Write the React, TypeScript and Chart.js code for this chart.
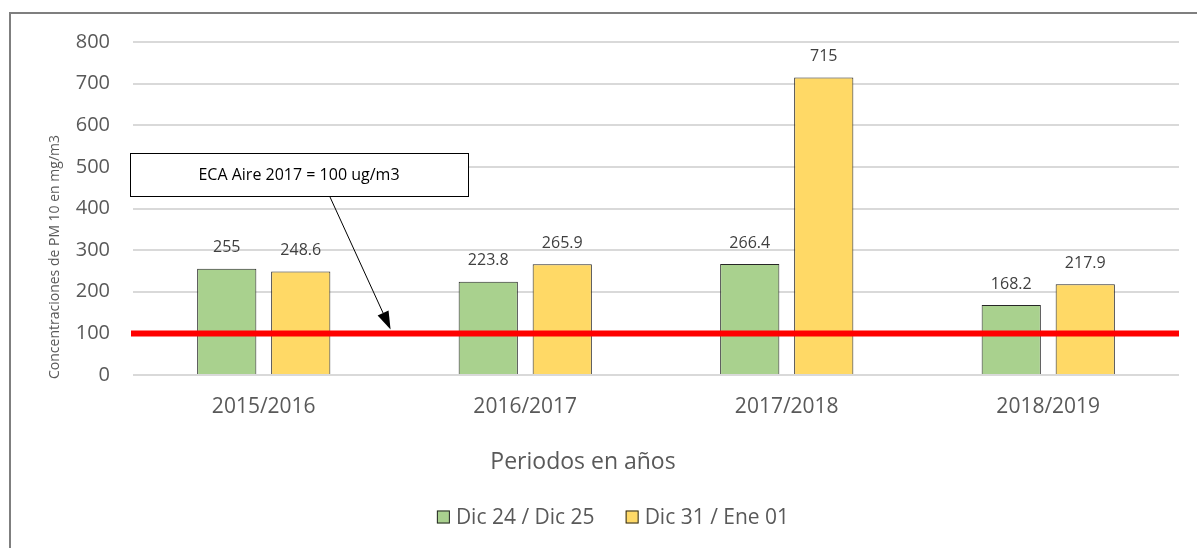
import React, { useEffect, useRef } from 'react';
import { Chart, registerables } from 'chart.js';

Chart.register(...registerables);

// ---------- data ----------
const categories = ['2015/2016', '2016/2017', '2017/2018', '2018/2019'];
const seriesNames = ['Dic 24 / Dic 25', 'Dic 31 / Ene 01'];
const dic24Values = [255, 223.8, 266.4, 168.2];
const dic31Values = [248.6, 265.9, 715, 217.9];
const yTickValues = [0, 100, 200, 300, 400, 500, 600, 700, 800];
const ecaLimit = 100;
const annotationText = 'ECA Aire 2017 = 100 ug/m3';
const yAxisTitle = 'Concentraciones de PM 10 en mg/m3';
const xAxisTitle = 'Periodos en años';

// ---------- styles ----------
const FONT = "'Open Sans', 'Liberation Sans', sans-serif";
const TEXT_GREY = '#595959';
const LABEL_GREY = '#404040';
const GREEN = '#A9D18E';
const YELLOW = '#FFD966';
const BAR_BORDER = '#262626';
const W = 1197;
const H = 548;

const overlayPlugin = {
  id: 'overlay',
  beforeDraw(chart: any) {
    const ctx = chart.ctx as CanvasRenderingContext2D;
    ctx.save();
    ctx.fillStyle = '#ffffff';
    ctx.fillRect(0, 0, chart.width, chart.height);
    // outer chart frame (only top & left visible)
    ctx.strokeStyle = '#7f7f7f';
    ctx.lineWidth = 2;
    ctx.beginPath();
    ctx.moveTo(10, chart.height);
    ctx.lineTo(10, 13);
    ctx.lineTo(chart.width, 13);
    ctx.stroke();
    ctx.restore();
  },
  afterDatasetsDraw(chart: any) {
    const ctx = chart.ctx as CanvasRenderingContext2D;
    const area = chart.chartArea;
    const yScale = chart.scales.y;
    const xScale = chart.scales.x;

    // ECA limit line
    const yLimit = yScale.getPixelForValue(ecaLimit);
    ctx.save();
    ctx.strokeStyle = '#FF0000';
    ctx.lineWidth = 6;
    ctx.beginPath();
    ctx.moveTo(area.left - 2, yLimit);
    ctx.lineTo(area.right, yLimit);
    ctx.stroke();
    ctx.restore();

    // value labels
    ctx.save();
    ctx.font = `16px ${FONT}`;
    ctx.fillStyle = LABEL_GREY;
    ctx.textAlign = 'center';
    ctx.textBaseline = 'middle';
    chart.data.datasets.forEach((ds: any, i: number) => {
      const meta = chart.getDatasetMeta(i);
      meta.data.forEach((el: any, j: number) => {
        ctx.fillText(String(ds.data[j]), el.x, el.y - 21);
      });
    });
    ctx.restore();

    // annotation box + arrow
    const bx = area.left - 3;
    const by = area.top + 111;
    const bw = 338;
    const bh = 43;
    ctx.save();
    ctx.fillStyle = '#ffffff';
    ctx.fillRect(bx, by, bw, bh);
    ctx.strokeStyle = '#000000';
    ctx.lineWidth = 1;
    ctx.strokeRect(bx + 0.5, by + 0.5, bw, bh);
    ctx.fillStyle = '#000000';
    ctx.font = `16px ${FONT}`;
    ctx.textAlign = 'center';
    ctx.textBaseline = 'middle';
    ctx.fillText(annotationText, bx + bw / 2, by + bh / 2 + 1);

    const sx = bx + 200;
    const sy = by + bh + 1;
    const tx = xScale.getPixelForValue(0.485);
    const ty = yLimit - 4;
    const ang = Math.atan2(ty - sy, tx - sx);
    const headLen = 18;
    const headHalf = 6;
    const baseX = tx - headLen * Math.cos(ang);
    const baseY = ty - headLen * Math.sin(ang);
    ctx.strokeStyle = '#000000';
    ctx.lineWidth = 1;
    ctx.beginPath();
    ctx.moveTo(sx, sy);
    ctx.lineTo(baseX, baseY);
    ctx.stroke();
    ctx.beginPath();
    ctx.moveTo(tx, ty);
    ctx.lineTo(baseX + headHalf * Math.sin(ang), baseY - headHalf * Math.cos(ang));
    ctx.lineTo(baseX - headHalf * Math.sin(ang), baseY + headHalf * Math.cos(ang));
    ctx.closePath();
    ctx.fill();
    ctx.restore();
  },
  afterDraw(chart: any) {
    const ctx = chart.ctx as CanvasRenderingContext2D;
    ctx.save();
    // y axis title
    ctx.fillStyle = TEXT_GREY;
    ctx.font = `14px ${FONT}`;
    ctx.translate(59, 257);
    ctx.rotate(-Math.PI / 2);
    ctx.textAlign = 'center';
    ctx.textBaseline = 'alphabetic';
    ctx.fillText(yAxisTitle, 0, 0);
    ctx.restore();

    // x axis title
    ctx.save();
    ctx.fillStyle = TEXT_GREY;
    ctx.font = `23px ${FONT}`;
    ctx.textAlign = 'center';
    ctx.textBaseline = 'alphabetic';
    ctx.fillText(xAxisTitle, 583, 469);
    ctx.restore();

    // legend
    ctx.save();
    ctx.font = `21px ${FONT}`;
    const box = 13;
    const gapBoxText = 6;
    const gapItems = 31;
    const items = chart.data.datasets.map((ds: any) => ({
      label: ds.label,
      color: ds.backgroundColor,
      w: box + gapBoxText + ctx.measureText(ds.label).width,
    }));
    const total = items.reduce((s: number, it: any) => s + it.w, 0) + gapItems * (items.length - 1);
    let x = 613 - total / 2;
    const cy = 517;
    ctx.textBaseline = 'middle';
    ctx.textAlign = 'left';
    items.forEach((it: any) => {
      ctx.fillStyle = it.color;
      ctx.fillRect(x, cy - box / 2, box, box);
      ctx.strokeStyle = BAR_BORDER;
      ctx.lineWidth = 1;
      ctx.strokeRect(x + 0.5, cy - box / 2 + 0.5, box - 1, box - 1);
      ctx.fillStyle = TEXT_GREY;
      ctx.fillText(it.label, x + box + gapBoxText, cy + 1);
      x += it.w + gapItems;
    });
    ctx.restore();
  },
};

export default function App() {
  const canvasRef = useRef<HTMLCanvasElement | null>(null);

  useEffect(() => {
    if (!canvasRef.current) return;
    const chart = new Chart(canvasRef.current, {
      type: 'bar',
      data: {
        labels: categories,
        datasets: [
          {
            label: seriesNames[0],
            data: dic24Values,
            backgroundColor: GREEN,
            borderColor: BAR_BORDER,
            borderWidth: 1,
            categoryPercentage: 0.566,
            barPercentage: 0.8,
          },
          {
            label: seriesNames[1],
            data: dic31Values,
            backgroundColor: YELLOW,
            borderColor: BAR_BORDER,
            borderWidth: 1,
            categoryPercentage: 0.566,
            barPercentage: 0.8,
          },
        ],
      },
      options: {
        responsive: false,
        animation: false,
        devicePixelRatio: 1,
        layout: { padding: { left: 0, right: 18, top: 42, bottom: 0 } },
        plugins: {
          legend: { display: false },
          tooltip: { enabled: false },
          title: { display: false },
        },
        scales: {
          x: {
            grid: { display: false, drawTicks: false },
            border: { display: false },
            ticks: {
              color: TEXT_GREY,
              font: { family: FONT, size: 21 },
              padding: 19,
              maxRotation: 0,
              autoSkip: false,
            },
            afterFit: (s: any) => {
              s.height = H - 375;
            },
          },
          y: {
            min: 0,
            max: 800,
            afterBuildTicks: (s: any) => {
              s.ticks = yTickValues.map((v) => ({ value: v }));
            },
            grid: { color: '#D9D9D9', lineWidth: 2, drawTicks: false },
            border: { display: false },
            ticks: {
              color: TEXT_GREY,
              font: { family: FONT, size: 20 },
              padding: 23,
            },
            afterFit: (s: any) => {
              s.width = 133;
            },
          },
        },
      },
      plugins: [overlayPlugin],
    });
    return () => chart.destroy();
  }, []);

  return (
    <div style={{ position: 'absolute', left: 0, top: 0, width: W, height: H, background: '#fff' }}>
      <canvas ref={canvasRef} width={W} height={H} style={{ display: 'block' }} />
    </div>
  );
}
